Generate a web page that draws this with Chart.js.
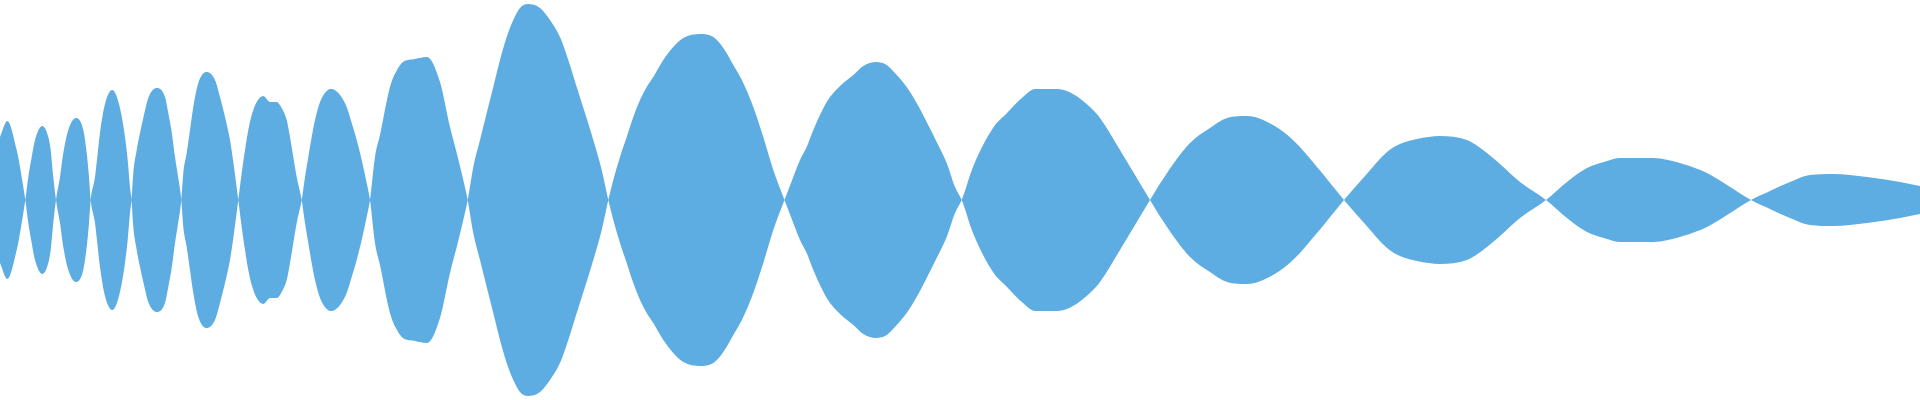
<!DOCTYPE html>
<html>
<head>
<meta charset="utf-8">
<title>Waveform</title>
<script src="https://cdn.jsdelivr.net/npm/chart.js@4"></script>
<style>
  html, body { margin: 0; padding: 0; background: #ffffff; }
  #wrap { width: 1920px; height: 400px; position: relative; }
</style>
</head>
<body>
<div id="wrap"><canvas id="waveChart"></canvas></div>
<script>
// --- data ---
// sample positions (0..1920) and signed displacement of the wave envelope
const times = [
  0, 7.3, 16.7, 20, 25.3,
  28.3, 31.7, 35, 42.3, 48.3, 50.7, 53.3, 56,
  60, 63.3, 68.3, 76, 83.3, 86.7, 89, 90.7,
  95, 97.7, 100, 105, 112.3, 119, 125, 127.7, 130, 131.5,
  133.3, 136.7, 140, 143.3, 148.3, 156.7, 165, 168.3, 171.7, 175, 178.3, 181.3,
  183.3, 186.7, 190, 193.3, 198.3, 206.7, 215, 220, 225, 230, 234, 238.3,
  241.7, 245, 248.3, 251.7, 256.7, 263.3, 270, 276.7, 281.7, 286.7, 290, 293.3, 296.7, 301.7,
  305, 308.3, 311.7, 315, 320, 326.7, 331.7, 340, 346.7, 351.7, 356.7, 361.7, 366.7, 370,
  375, 380, 390, 397, 403, 415, 427, 440, 450, 456.7, 463.3, 467.7,
  473.3, 480, 486.7, 493.3, 500, 506.7, 513.3, 520, 528, 540, 550, 560, 568.3, 576.7, 585, 593.3, 601.7, 608.3,
  613.3, 620, 626.7, 633.3, 640, 646.7, 653.3, 663.3, 673.3, 683.3, 700, 713.3, 723.3, 733.3, 743.3, 753.3, 763.3, 773.3, 784.5,
  793.3, 800, 806.7, 813.3, 820, 826.7, 833.3, 843.3, 853.3, 863.3, 876, 886.7, 896.7, 906.7, 916.7, 926.7, 936.7, 946.7, 955, 961.7,
  973, 993, 1007, 1023, 1035, 1058, 1073, 1090, 1100, 1120, 1150,
  1167, 1190, 1210, 1227, 1247, 1273, 1293, 1317, 1344,
  1365, 1387, 1400, 1417, 1440, 1467, 1483, 1500, 1520, 1546,
  1567, 1587, 1607, 1620, 1653, 1683, 1707, 1727, 1751,
  1770, 1790, 1810, 1833, 1867, 1900, 1920
];
const wave = [
  63, 79, 50, 33, 0,
  -23, -43, -60, -74, -63, -50, -23, 0,
  23, 47, 70, 82, 70, 47, 23, 0,
  -23, -47, -67, -96, -110, -96, -63, -40, -13, 0,
  27, 50, 67, 82, 102, 112, 103, 87, 68, 43, 22, 0,
  -27, -47, -70, -93, -117, -128, -120, -103, -83, -60, -33, 0,
  27, 50, 70, 85, 98, 104, 98, 98, 92, 80, 63, 43, 23, 0,
  -23, -43, -63, -80, -98, -109, -111, -105, -93, -77, -60, -40, -17, 0,
  43, 65, 113, 130, 138, 141, 143, 118, 73, 47, 20, 0,
  -33, -60, -87, -113, -140, -163, -180, -192, -196, -192, -180, -163, -140, -113, -87, -60, -30, 0,
  20, 43, 63, 83, 100, 113, 123, 140, 153, 162, 166, 163, 152, 135, 117, 93, 63, 30, 0,
  -23, -40, -53, -70, -85, -98, -107, -117, -125, -134, -138, -135, -125, -113, -97, -78, -58, -37, -13, 0,
  33, 72, 87, 103, 111, 111, 106, 93, 82, 50, 0,
  -27, -57, -72, -82, -84, -75, -60, -33, 0,
  24, 48, 56, 61, 64, 60, 50, 36, 18, 0,
  -18, -32, -39, -42, -42, -36, -27, -15, 0,
  9, 18, 25, 26, 23, 18, 14
];

const fillColor = '#5DADE2';

const upper = times.map((t, i) => ({ x: t, y: wave[i] }));
const lower = times.map((t, i) => ({ x: t, y: -wave[i] }));

const ctx = document.getElementById('waveChart').getContext('2d');
const waveChart = new Chart(ctx, {
  type: 'line',
  data: {
    datasets: [
      { data: upper, fill: '+1', backgroundColor: fillColor, borderColor: 'rgba(0,0,0,0)', borderWidth: 0, pointRadius: 0, cubicInterpolationMode: 'monotone' },
      { data: lower, fill: false, borderColor: 'rgba(0,0,0,0)', borderWidth: 0, pointRadius: 0, cubicInterpolationMode: 'monotone' }
    ]
  },
  options: {
    responsive: true,
    maintainAspectRatio: false,
    animation: false,
    layout: { padding: 0 },
    plugins: { legend: { display: false }, tooltip: { enabled: false } },
    scales: {
      x: { type: 'linear', min: 0, max: 1920, display: false },
      y: { min: -200, max: 200, display: false }
    }
  }
});
</script>
</body>
</html>
